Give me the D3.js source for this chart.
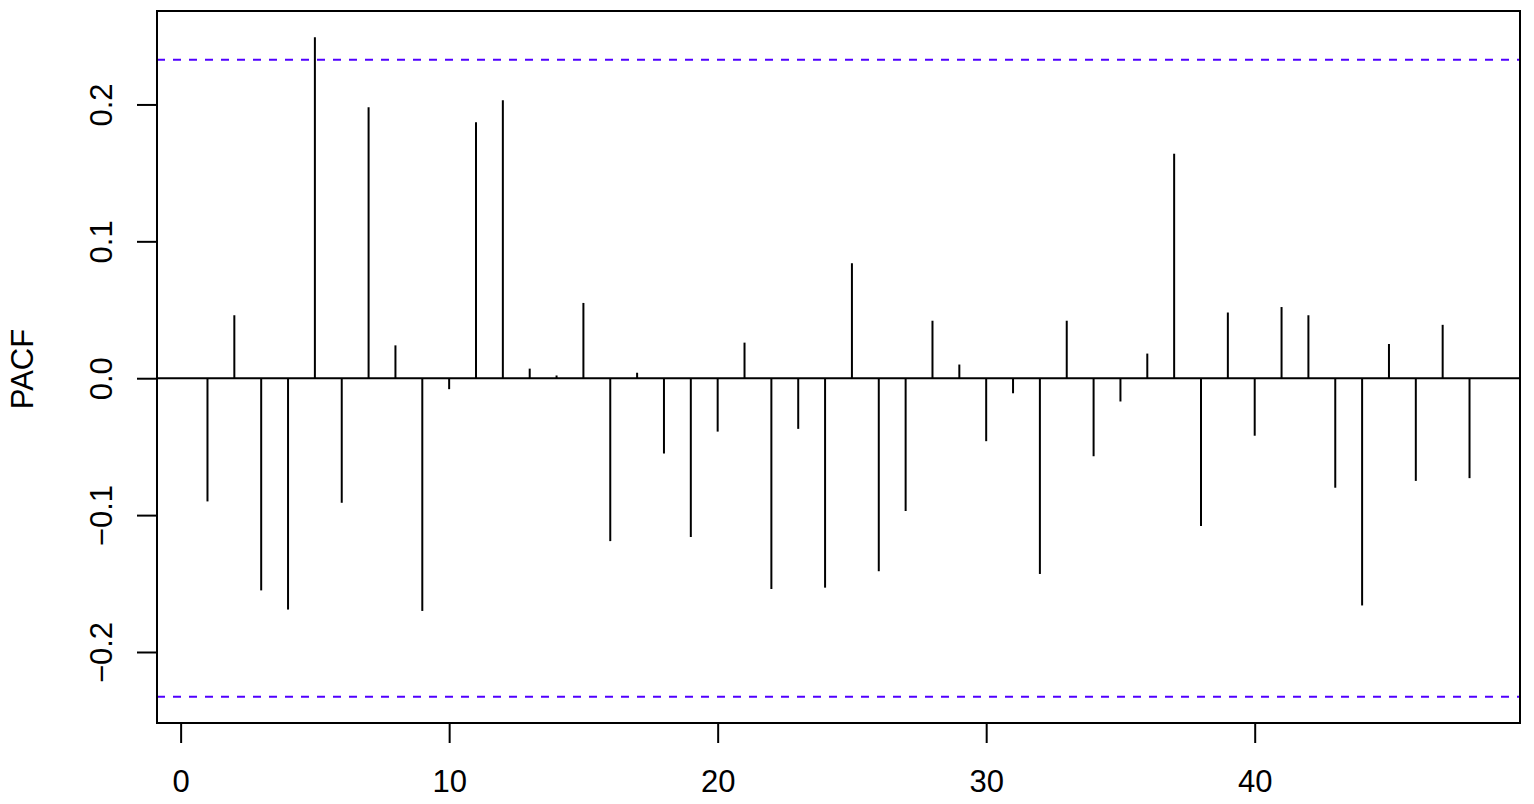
<!DOCTYPE html>
<html>
<head>
<meta charset="utf-8">
<script src="https://cdn.jsdelivr.net/npm/d3@7"></script>
<style>
  html, body { margin: 0; padding: 0; background: #fff; }
  svg text { font-family: "Liberation Sans", Arial, sans-serif; fill: #000; }
</style>
</head>
<body>
<script>
// PACF values, lags 1..48
const lags = d3.range(1, 49);
const pacf = [
  -0.090, 0.046, -0.155, -0.169, 0.249, -0.091, 0.198, 0.024, -0.170, -0.008,
  0.187, 0.203, 0.007, 0.002, 0.055, -0.119, 0.004, -0.055, -0.116, -0.039,
  0.026, -0.154, -0.037, -0.153, 0.084, -0.141, -0.097, 0.042, 0.010, -0.046,
  -0.011, -0.143, 0.042, -0.057, -0.017, 0.018, 0.164, -0.108, 0.048, -0.042,
  0.052, 0.046, -0.080, -0.166, 0.025, -0.075, 0.039, -0.073
];
const nObs = 71;
const xTicks = [0, 10, 20, 30, 40];
const yTicks = [-0.2, -0.1, 0.0, 0.1, 0.2];

const width = 1534;
const height = 804;
const margin = { top: 11, right: 14, bottom: 81, left: 157 };
const fontSize = 31;

const clim = 1.96 / Math.sqrt(nObs);

// R style axis ranges: data range widened by 4%
function rRange(lo, hi) {
  const pad = (hi - lo) * 0.04;
  return [lo - pad, hi + pad];
}
const xDom = rRange(d3.min(lags), d3.max(lags));
const yDom = rRange(Math.min(-clim, d3.min(pacf)), Math.max(clim, d3.max(pacf)));

const svg = d3.select('body')
  .append('svg')
  .attr('width', width)
  .attr('height', height);

const x = d3.scaleLinear()
  .domain(xDom)
  .range([margin.left, width - margin.right]);

const y = d3.scaleLinear()
  .domain(yDom)
  .range([height - margin.bottom, margin.top]);

// zero line
svg.append('line')
  .attr('x1', x.range()[0]).attr('x2', x.range()[1])
  .attr('y1', y(0)).attr('y2', y(0))
  .attr('stroke', '#000')
  .attr('stroke-width', 2);

// confidence bounds
svg.selectAll('.clim')
  .data([clim, -clim])
  .enter()
  .append('line')
  .attr('x1', x.range()[0]).attr('x2', x.range()[1])
  .attr('y1', d => y(d)).attr('y2', d => y(d))
  .attr('stroke', '#5000ff')
  .attr('stroke-width', 2)
  .attr('stroke-dasharray', '8,8');

// spikes
svg.selectAll('.spike')
  .data(lags)
  .enter()
  .append('line')
  .attr('x1', d => x(d)).attr('x2', d => x(d))
  .attr('y1', y(0))
  .attr('y2', (d, i) => y(pacf[i]))
  .attr('stroke', '#000')
  .attr('stroke-width', 2);

// box
svg.append('rect')
  .attr('x', x.range()[0])
  .attr('y', margin.top)
  .attr('width', x.range()[1] - x.range()[0])
  .attr('height', height - margin.bottom - margin.top)
  .attr('fill', 'none')
  .attr('stroke', '#000')
  .attr('stroke-width', 2);

// x axis
const xAxis = svg.append('g')
  .attr('transform', `translate(0,${height - margin.bottom})`)
  .call(d3.axisBottom(x).tickValues(xTicks).tickSize(20).tickFormat(d3.format('d')));
xAxis.select('.domain').remove();
xAxis.selectAll('.tick line').attr('stroke-width', 2);
xAxis.selectAll('.tick text')
  .attr('font-size', fontSize)
  .attr('font-family', '"Liberation Sans", Arial, sans-serif')
  .attr('y', 69)
  .attr('dy', null);

// y axis, labels rotated like R's default
const yAxis = svg.append('g')
  .attr('transform', `translate(${margin.left},0)`)
  .call(d3.axisLeft(y).tickValues(yTicks).tickSize(20).tickFormat(d => d3.format('.1f')(d).replace('-', '\u2212')));
yAxis.select('.domain').remove();
yAxis.selectAll('.tick line').attr('stroke-width', 2);
yAxis.selectAll('.tick text')
  .attr('font-size', fontSize)
  .attr('font-family', '"Liberation Sans", Arial, sans-serif')
  .attr('text-anchor', 'middle')
  .attr('dy', null)
  .attr('x', null)
  .attr('transform', 'translate(-45,0) rotate(-90)');

// y label
svg.append('text')
  .attr('transform', `translate(33,369) rotate(-90)`)
  .attr('text-anchor', 'middle')
  .attr('font-size', fontSize)
  .text('PACF');
</script>
</body>
</html>
